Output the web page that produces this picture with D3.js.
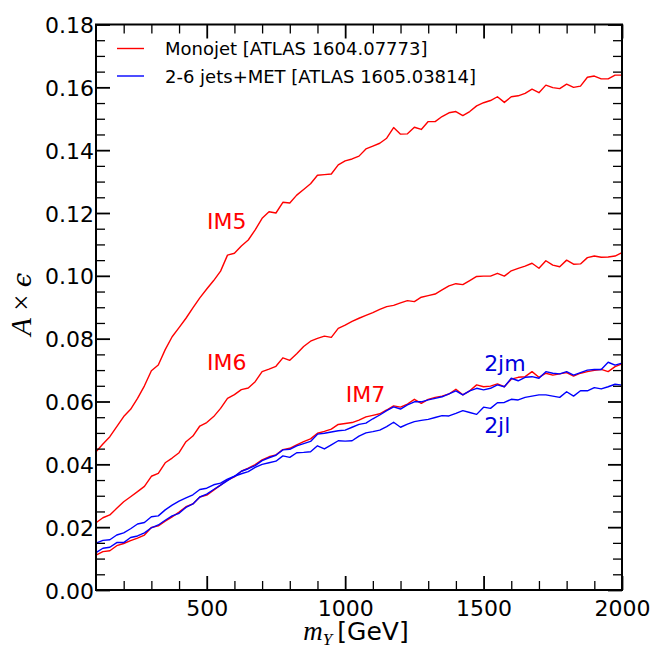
<!DOCTYPE html>
<html>
<head>
<meta charset="utf-8">
<script src="https://cdn.jsdelivr.net/npm/d3@7"></script>
<style>
  html, body { margin: 0; padding: 0; background: #fff; }
  svg { display: block; }
</style>
</head>
<body>
<svg id="chart" width="665" height="648"></svg>
<script>
// ---------------- DATA ----------------
const mY = [100,125,150,175,200,225,250,275,300,325,
  350,375,400,425,450,475,500,525,550,575,
  600,625,650,675,700,725,750,775,800,825,
  850,875,900,925,950,975,1000,1025,1050,1075,
  1100,1125,1150,1175,1200,1225,1250,1275,1300,1325,
  1350,1375,1400,1425,1450,1475,1500,1525,1550,1575,
  1600,1625,1650,1675,1700,1725,1750,1775,1800,1825,
  1850,1875,1900,1925,1950,1975,2000];

const IM5 = [0.0440,0.0465,0.0488,0.0520,0.0552,0.0575,0.0610,0.0650,0.0698,0.0716,
  0.0765,0.0806,0.0835,0.0865,0.0898,0.0930,0.0958,0.0985,0.1015,0.1066,
  0.1072,0.1095,0.1114,0.1146,0.1183,0.1204,0.1200,0.1234,0.1232,0.1257,
  0.1275,0.1293,0.1320,0.1322,0.1324,0.1353,0.1366,0.1372,0.1381,0.1404,
  0.1413,0.1422,0.1438,0.1472,0.1451,0.1452,0.1473,0.1466,0.1491,0.1491,
  0.1507,0.1519,0.1523,0.1510,0.1523,0.1541,0.1551,0.1558,0.1570,0.1552,
  0.1570,0.1573,0.1581,0.1594,0.1583,0.1607,0.1599,0.1596,0.1610,0.1600,
  0.1604,0.1632,0.1636,0.1627,0.1627,0.1639,0.1639];

const IM6 = [0.0214,0.0230,0.0239,0.0260,0.0281,0.0297,0.0313,0.0330,0.0362,0.0371,
  0.0405,0.0420,0.0437,0.0472,0.0490,0.0522,0.0533,0.0552,0.0578,0.0610,
  0.0622,0.0638,0.0643,0.0663,0.0695,0.0703,0.0712,0.0739,0.0731,0.0752,
  0.0775,0.0792,0.0801,0.0808,0.0804,0.0833,0.0843,0.0855,0.0865,0.0874,
  0.0883,0.0893,0.0902,0.0906,0.0914,0.0921,0.0918,0.0932,0.0937,0.0942,
  0.0955,0.0968,0.0975,0.0972,0.0985,0.0998,0.0999,0.0999,0.1008,0.0999,
  0.1016,0.1024,0.1031,0.1040,0.1024,0.1048,0.1034,0.1029,0.1050,0.1037,
  0.1038,0.1058,0.1063,0.1059,0.1060,0.1063,0.1074];

const IM7 = [0.0111,0.0122,0.0125,0.0141,0.0148,0.0157,0.0165,0.0175,0.0199,0.0204,
  0.0219,0.0233,0.0248,0.0265,0.0274,0.0296,0.0302,0.0318,0.0334,0.0350,
  0.0360,0.0378,0.0388,0.0399,0.0414,0.0424,0.0430,0.0447,0.0451,0.0462,
  0.0472,0.0481,0.0499,0.0505,0.0512,0.0527,0.0530,0.0533,0.0541,0.0551,
  0.0556,0.0561,0.0573,0.0586,0.0582,0.0592,0.0607,0.0594,0.0607,0.0613,
  0.0617,0.0624,0.0639,0.0621,0.0634,0.0653,0.0647,0.0649,0.0656,0.0647,
  0.0671,0.0677,0.0679,0.0695,0.0677,0.0690,0.0684,0.0688,0.0692,0.0681,
  0.0690,0.0695,0.0699,0.0702,0.0695,0.0711,0.0720];

const JM2 = [0.0119,0.0133,0.0136,0.0151,0.0151,0.0167,0.0172,0.0182,0.0198,0.0207,
  0.0222,0.0236,0.0244,0.0263,0.0274,0.0296,0.0305,0.0320,0.0334,0.0348,
  0.0362,0.0378,0.0386,0.0396,0.0412,0.0421,0.0429,0.0446,0.0448,0.0459,
  0.0466,0.0473,0.0496,0.0499,0.0503,0.0507,0.0509,0.0518,0.0527,0.0531,
  0.0545,0.0557,0.0571,0.0583,0.0576,0.0589,0.0599,0.0599,0.0605,0.0610,
  0.0615,0.0624,0.0634,0.0621,0.0634,0.0642,0.0637,0.0642,0.0653,0.0647,
  0.0674,0.0666,0.0677,0.0679,0.0674,0.0695,0.0690,0.0688,0.0695,0.0684,
  0.0692,0.0700,0.0702,0.0702,0.0725,0.0716,0.0722];

const JL2 = [0.0149,0.0158,0.0160,0.0175,0.0182,0.0195,0.0210,0.0215,0.0233,0.0236,
  0.0255,0.0270,0.0283,0.0293,0.0303,0.0320,0.0324,0.0335,0.0340,0.0353,
  0.0362,0.0370,0.0377,0.0390,0.0400,0.0405,0.0410,0.0427,0.0422,0.0437,
  0.0438,0.0440,0.0459,0.0449,0.0462,0.0475,0.0474,0.0475,0.0490,0.0500,
  0.0504,0.0509,0.0520,0.0534,0.0518,0.0528,0.0536,0.0540,0.0543,0.0549,
  0.0555,0.0554,0.0562,0.0571,0.0565,0.0559,0.0582,0.0578,0.0596,0.0597,
  0.0607,0.0605,0.0613,0.0617,0.0621,0.0621,0.0617,0.0613,0.0631,0.0617,
  0.0634,0.0634,0.0644,0.0640,0.0647,0.0655,0.0652];

const xMajorTicks = [500, 1000, 1500, 2000];
const xMinorTicks = [200,300,400,600,700,800,900,1100,1200,1300,1400,1600,1700,1800,1900];
const yMajorTicks = [0.00,0.02,0.04,0.06,0.08,0.10,0.12,0.14,0.16,0.18];
const yMinorTicks = [0.005,0.01,0.015,0.025,0.03,0.035,0.045,0.05,0.055,0.065,0.07,0.075,
  0.085,0.09,0.095,0.105,0.11,0.115,0.125,0.13,0.135,0.145,0.15,0.155,0.165,0.17,0.175];

const seriesNames = ["IM5","IM6","IM7","2jm","2jl"];
const seriesValues = [IM5, IM6, IM7, JM2, JL2];
const seriesGroup = ["mono","mono","mono","jets","jets"];
const legendLabels = ["Monojet [ATLAS 1604.07773]", "2-6 jets+MET [ATLAS 1605.03814]"];
const legendGroups = ["mono","jets"];

// ---------------- LAYOUT ----------------
const W = 665, H = 648;
const M = {left: 96, right: 43, top: 24.5, bottom: 58};
const iw = W - M.left - M.right, ih = H - M.top - M.bottom;
const color = {mono: "#ff0000", jets: "#0000ff"};
const svg = d3.select("#chart");
const g = svg.append("g").attr("transform", `translate(${M.left},${M.top})`);

const x = d3.scaleLinear().domain([100, 2000]).range([0, iw]);
const y = d3.scaleLinear().domain([0, 0.18]).range([ih, 0]);

// curves (red first, blue over)
const line = d3.line().x(d => x(d[0])).y(d => y(d[1]));
const order = [0,1,2,3,4];
g.append("g").selectAll("path").data(order).join("path")
  .attr("d", i => line(mY.map((m, k) => [m, seriesValues[i][k]])))
  .attr("fill", "none")
  .attr("stroke", i => color[seriesGroup[i]])
  .attr("stroke-width", 1.4)
  .attr("stroke-linejoin", "round");

// axes
const tickFont = "'DejaVu Sans', sans-serif";
function styleAxis(sel, major) {
  sel.select(".domain").remove();
  sel.selectAll(".tick line").attr("stroke", "#000").attr("stroke-width", major ? 1.8 : 1.3);
  sel.selectAll(".tick text").attr("font-family", tickFont).attr("font-size", 22).attr("fill", "#000");
}
// bottom
g.append("g").attr("transform", `translate(0,${ih})`)
  .call(d3.axisBottom(x).tickValues(xMajorTicks).tickSize(-14).tickPadding(26).tickFormat(d3.format("d")))
  .call(s => styleAxis(s, true))
  .call(s => s.selectAll(".tick text").attr("dy", "0").attr("y", 26));
g.append("g").attr("transform", `translate(0,${ih})`)
  .call(d3.axisBottom(x).tickValues(xMinorTicks).tickSize(-9).tickFormat(""))
  .call(s => styleAxis(s, false));
// top
g.append("g")
  .call(d3.axisTop(x).tickValues(xMajorTicks).tickSize(-14).tickFormat(""))
  .call(s => styleAxis(s, true));
g.append("g")
  .call(d3.axisTop(x).tickValues(xMinorTicks).tickSize(-9).tickFormat(""))
  .call(s => styleAxis(s, false));
// left
g.append("g")
  .call(d3.axisLeft(y).tickValues(yMajorTicks).tickSize(-14).tickPadding(2).tickFormat(d3.format(".2f")))
  .call(s => styleAxis(s, true))
  .call(s => s.selectAll(".tick text").attr("dy", "0").attr("y", 8));
g.append("g")
  .call(d3.axisLeft(y).tickValues(yMinorTicks).tickSize(-9).tickFormat(""))
  .call(s => styleAxis(s, false));
// right
g.append("g").attr("transform", `translate(${iw},0)`)
  .call(d3.axisRight(y).tickValues(yMajorTicks).tickSize(-14).tickFormat(""))
  .call(s => styleAxis(s, true));
g.append("g").attr("transform", `translate(${iw},0)`)
  .call(d3.axisRight(y).tickValues(yMinorTicks).tickSize(-9).tickFormat(""))
  .call(s => styleAxis(s, false));

// frame
g.append("rect").attr("x", 0).attr("y", 0).attr("width", iw).attr("height", ih)
  .attr("fill", "none").attr("stroke", "#000").attr("stroke-width", 2);

// legend
const leg = g.append("g").attr("transform", "translate(21,24)");
leg.selectAll("line").data(legendGroups).join("line")
  .attr("x1", 0).attr("x2", 27)
  .attr("y1", (d, i) => i * 27.5).attr("y2", (d, i) => i * 27.5)
  .attr("stroke", d => color[d]).attr("stroke-width", 1.4);
leg.selectAll("text").data(legendLabels).join("text")
  .attr("x", 48).attr("y", (d, i) => i * 27.5 + 6.5)
  .attr("font-family", tickFont).attr("font-size", 18).attr("fill", "#000")
  .text(d => d);

// curve annotations (anchored at data coordinates: text centre)
const annot = [
  {t: "IM5", m: 501, v: 0.1175, grp: "mono"},
  {t: "IM6", m: 501, v: 0.0726, grp: "mono"},
  {t: "IM7", m: 1002, v: 0.0624, grp: "mono"},
  {t: "2jm", m: 1502, v: 0.0723, grp: "jets"},
  {t: "2jl", m: 1502, v: 0.0525, grp: "jets"}
];
g.append("g").selectAll("text").data(annot).join("text")
  .attr("x", d => x(d.m)).attr("y", d => y(d.v) + 8)
  .attr("font-family", tickFont).attr("font-size", 22)
  .attr("fill", d => d.grp === "mono" ? "#ff0000" : "#0000dd")
  .text(d => d.t);

// x label: m_Y [GeV]
const xl = svg.append("text")
  .attr("x", M.left + iw / 2 - 3).attr("y", 640)
  .attr("text-anchor", "middle")
  .attr("font-family", tickFont).attr("font-size", 25).attr("fill", "#000");
xl.append("tspan").attr("font-family", "'Liberation Serif', 'DejaVu Serif', serif")
  .attr("font-style", "italic").attr("font-size", 27).text("m");
xl.append("tspan").attr("font-family", "'Liberation Serif', 'DejaVu Serif', serif")
  .attr("font-style", "italic").attr("font-size", 17).attr("dy", 5).text("Y");
xl.append("tspan").attr("dy", -5).text("\u2009[GeV]");

// y label: A × ϵ
const yl = svg.append("text")
  .attr("transform", `translate(31,${M.top + ih / 2 - 3}) rotate(-90)`)
  .attr("text-anchor", "middle")
  .attr("font-family", "'Liberation Serif', 'DejaVu Serif', serif")
  .attr("font-size", 29).attr("fill", "#000");
yl.append("tspan").attr("font-style", "italic").text("A");
yl.append("tspan").text(" \u00d7 ");
yl.append("tspan").attr("font-style", "italic").attr("font-family", "'DejaVu Serif', serif")
  .attr("font-size", 26).text("\u03f5");
</script>
</body>
</html>
